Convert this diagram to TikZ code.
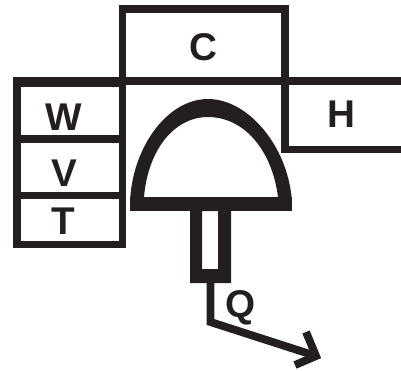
\documentclass[tikz,border=0pt]{standalone}
\usepackage{fontspec}
\setmainfont{Liberation Sans}
\definecolor{inkblack}{RGB}{35,31,32}
\tikzset{
  wall/.style={draw=inkblack, line width=5.6pt, line cap=butt, miter limit=10},
  letter/.style={font=\bfseries\fontsize{27.5}{27.5}\selectfont, text=inkblack, inner sep=0pt}
}
\begin{document}
\begin{tikzpicture}[x=0.025cm, y=-0.025cm]
\useasboundingbox (0,0) rectangle (401,370);
% boxes
\draw[wall] (122.5,81) -- (122.5,9) -- (285,9) -- (285,149.5) -- (401,149.5);
\draw[wall] (122.5,81) -- (122.5,244.5) -- (17,244.5) -- (17,81) -- cycle;
\draw[wall] (17,139) -- (122.5,139);
\draw[wall] (17,195.5) -- (122.5,195.5);
\draw[wall] (17,81) -- (401,81);
\fill[inkblack] (13,77) rectangle (122,87);
% bulb
\fill[inkblack, even odd rule] (130,204) .. controls (131,150) and (166,99) .. (208,99) .. controls (250,99) and (290,150) .. (292,204) -- cycle
  (144,197) .. controls (148,150) and (174,117) .. (208,117) .. controls (244,117) and (272,150) .. (278,197) -- cycle;
\fill[inkblack] (130,197) rectangle (292,211);
\fill[inkblack, even odd rule] (190,205) rectangle (231,283) (202,211) rectangle (218,269);
% output
\coordinate (stem) at (210.5,280);
\coordinate (bend) at (210.5,322);
\coordinate (tip) at (316,356);
\coordinate (barbup) at (306,332);
\coordinate (barbdown) at (295,365);
\draw[wall] (stem) -- (bend) -- (tip);
\draw[wall] (barbup) -- (tip) -- (barbdown);
% labels
\node[letter] (labelc) at (203,47) {C};
\node[letter] (labelw) at (64,117) {W};
\node[letter] (labelv) at (64,173) {V};
\node[letter] (labelt) at (63,221) {T};
\node[letter] (labelh) at (341,114) {H};
\node[letter] (labelq) at (241,308) {Q};
\end{tikzpicture}
\end{document}
